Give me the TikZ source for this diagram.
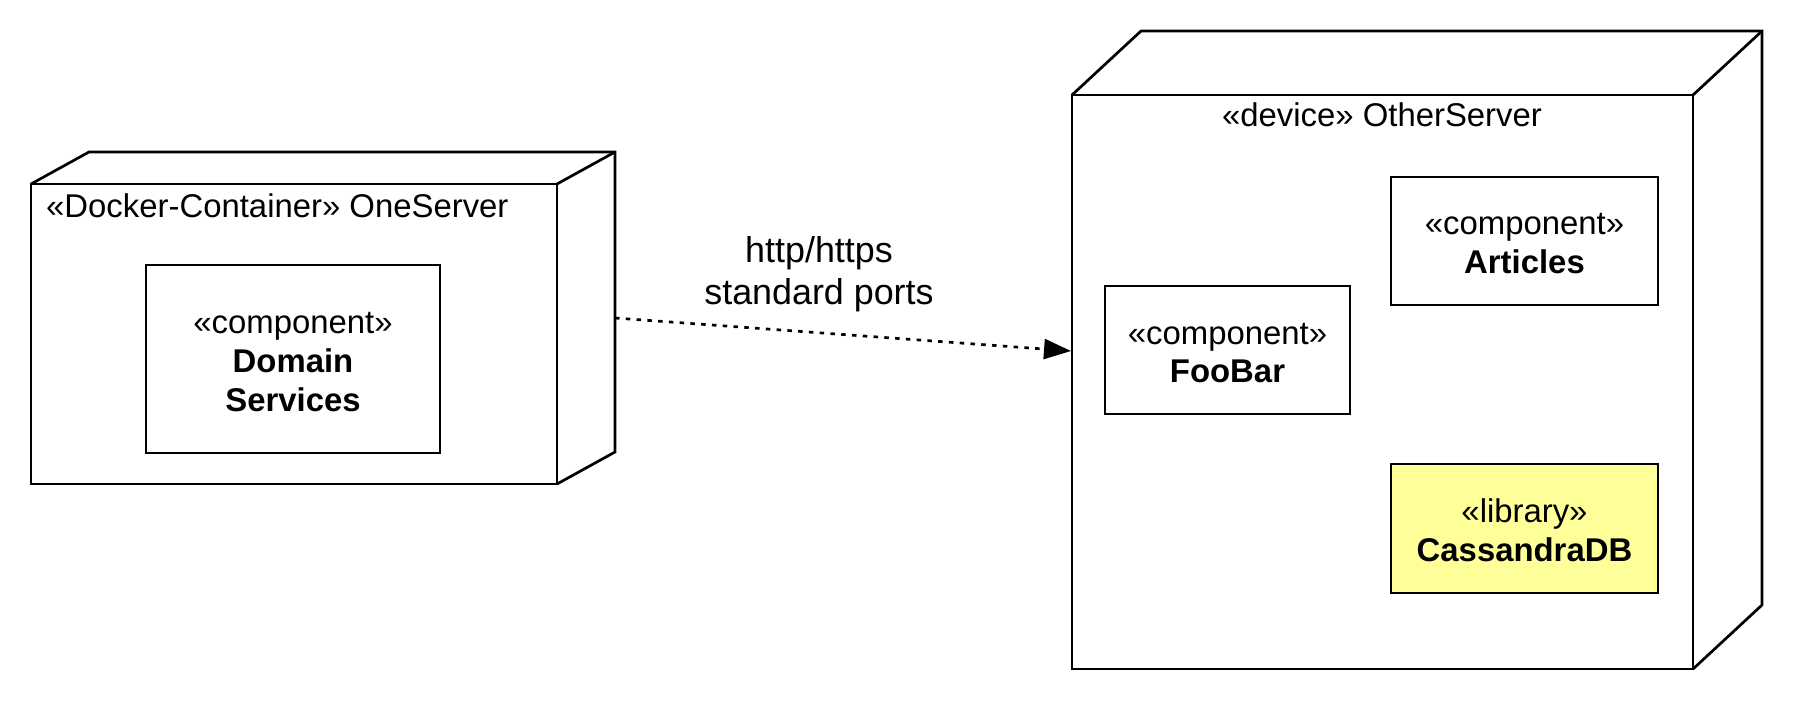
\documentclass[tikz,border=0pt]{standalone}
\usepackage{fontspec}
\setmainfont{Liberation Sans}
\usetikzlibrary{arrows.meta,calc}
\begin{document}
\begin{tikzpicture}[x=1bp,y=-1bp,
  edge3d/.style={line width=2.7bp, line join=miter},
  nodebox/.style={draw, line width=2.7bp, fill=white, inner sep=0pt, outer sep=0pt, anchor=north west},
  compbox/.style={draw, line width=2.7bp, fill=white, inner sep=0pt, outer sep=0pt, anchor=north west},
  comptext/.style={inner sep=0pt, align=center, font=\fontsize{33}{39}\selectfont},
  titletext/.style={inner sep=0pt, font=\fontsize{33}{39}\selectfont},
  labeltext/.style={inner sep=0pt, align=center, font=\fontsize{36}{42}\selectfont},
  dep/.style={line width=2.7bp, dash pattern=on 4.5bp off 6.3bp, -{Triangle[length=27bp,width=20bp]}}
]
\useasboundingbox (0,0) rectangle (1794,702);
% left node
\node[nodebox, minimum width=526bp, minimum height=300bp] (oneserver) at (31,184) {};
\draw[edge3d] (oneserver.north west) -- ($(oneserver.north west)+(58,-32)$) -- ($(oneserver.north east)+(58,-32)$) -- ($(oneserver.south east)+(58,-32)$) -- (oneserver.south east);
\draw[edge3d] (oneserver.north east) -- ($(oneserver.north east)+(58,-32)$);
\node[titletext, anchor=west] (onetitle) at (46,206) {«Docker-Container» OneServer};
\node[compbox, minimum width=294bp, minimum height=188bp] (domain) at (146,265) {};
\node[comptext] (domaintext) at ([yshift=-3bp]domain.center) {«component»\\\textbf{Domain}\\\textbf{Services}};
% right node
\node[nodebox, minimum width=621bp, minimum height=574bp] (otherserver) at (1072,95) {};
\draw[edge3d] (otherserver.north west) -- ($(otherserver.north west)+(69,-64)$) -- ($(otherserver.north east)+(69,-64)$) -- ($(otherserver.south east)+(69,-64)$) -- (otherserver.south east);
\draw[edge3d] (otherserver.north east) -- ($(otherserver.north east)+(69,-64)$);
\node[titletext] (othertitle) at (1382,115) {«device» OtherServer};
\node[compbox, minimum width=245bp, minimum height=128bp] (foobar) at (1105,286) {};
\node[comptext] (foobartext) at ([yshift=-3bp]foobar.center) {«component»\\\textbf{FooBar}};
\node[compbox, minimum width=267bp, minimum height=128bp] (articles) at (1391,177) {};
\node[comptext] (articlestext) at ([yshift=-2.5bp]articles.center) {«component»\\\textbf{Articles}};
\node[compbox, fill={rgb,255:red,255;green,255;blue,153}, minimum width=267bp, minimum height=129bp] (cassandra) at (1391,464) {};
\node[comptext] (cassandratext) at ([yshift=-2bp]cassandra.center) {«library»\\\textbf{CassandraDB}};
% connector
\coordinate (src) at (615,318);
\coordinate (dst) at (1071,351);
\draw[dep] (src) -- (dst);
\node[labeltext] (lbl) at (819,274) {http/https\\standard ports};
\end{tikzpicture}
\end{document}
